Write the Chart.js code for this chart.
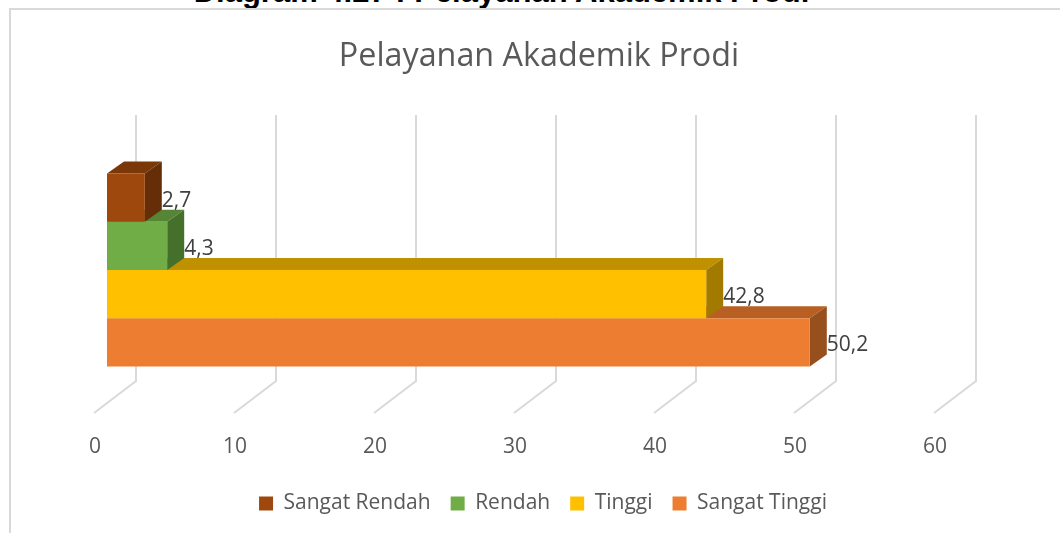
<!DOCTYPE html>
<html>
<head>
<meta charset="utf-8">
<title>Pelayanan Akademik Prodi</title>
<script src="https://cdn.jsdelivr.net/npm/chart.js@4"></script>
<style>
  html,body{margin:0;padding:0;width:1060px;height:533px;overflow:hidden;background:#fff}
  #heading{position:absolute;left:0;width:1003px;top:-24px;text-align:center;font:bold 31px/32px "Liberation Sans",sans-serif;color:#000;white-space:nowrap}
  #frame{position:absolute;left:9px;top:8px;width:1200px;height:700px;border:2px solid #d9d9d9;background:#fff}
  #wrap{position:absolute;left:0;top:0;width:1060px;height:533px}
</style>
</head>
<body>
<div id="heading">Diagram  4.27 : Pelayanan Akademik Prodi</div>
<div id="frame"></div>
<div id="wrap"><canvas id="chart" width="1060" height="533"></canvas></div>
<script>
  // ===== Data =====
  const categories = ['Pelayanan Akademik Prodi'];
  const seriesNames = ['Sangat Rendah', 'Rendah', 'Tinggi', 'Sangat Tinggi'];
  const seriesValues = [2.7, 4.3, 42.8, 50.2];
  const axisMin = 0, axisMax = 60, axisStep = 10;

  // ===== Colours =====
  const frontColors = ['#9e480e', '#70ad47', '#ffc000', '#ed7d31'];
  const topColors = ['#7a3809', '#568535', '#bf9000', '#b86023'];
  const sideColors = ['#652e08', '#44702b', '#a27a00', '#984f1e'];

  // 3d look: bar depth and wall depth, measured from the front of the bars
  const barDepth = {x: 17, y: -12};
  const wallBack = {x: 29, y: -22};
  const wallFront = {x: -13, y: 10};

  function poly(ctx, pts, color){
    ctx.fillStyle = color;
    ctx.beginPath();
    pts.forEach((p, i) => i ? ctx.lineTo(p[0], p[1]) : ctx.moveTo(p[0], p[1]));
    ctx.closePath();
    ctx.fill();
  }

  const walls3d = {
    id: 'walls3d',
    beforeDatasetsDraw(chart){
      const {ctx, chartArea, scales} = chart;
      ctx.save();
      ctx.strokeStyle = '#d9d9d9';
      ctx.lineWidth = 2;
      scales.x.ticks.forEach(t => {
        const px = scales.x.getPixelForValue(t.value);
        ctx.beginPath();
        ctx.moveTo(px + wallBack.x, chartArea.top + wallBack.y);
        ctx.lineTo(px + wallBack.x, chartArea.bottom + wallBack.y);
        ctx.lineTo(px + wallFront.x, chartArea.bottom + wallFront.y);
        ctx.stroke();
      });
      // bar tops and sides, bottom bar first so upper bars sit over it
      for(let i = seriesValues.length - 1; i >= 0; i--){
        const b = chart.getDatasetMeta(i).data[0];
        const t = b.y - b.height / 2, u = b.y + b.height / 2;
        const dx = barDepth.x, dy = barDepth.y;
        poly(ctx, [[b.base, t], [b.x, t], [b.x + dx, t + dy], [b.base + dx, t + dy]], topColors[i]);
        poly(ctx, [[b.x, t], [b.x + dx, t + dy], [b.x + dx, u + dy], [b.x, u]], sideColors[i]);
      }
      ctx.restore();
    }
  };

  const valueLabels = {
    id: 'valueLabels',
    afterDatasetsDraw(chart){
      const {ctx} = chart;
      ctx.save();
      ctx.font = '21px "Open Sans"';
      ctx.fillStyle = '#404040';
      ctx.textBaseline = 'middle';
      seriesValues.forEach((v, i) => {
        const b = chart.getDatasetMeta(i).data[0];
        ctx.fillText(String(v).replace('.', ','), b.x + barDepth.x, b.y + 3);
      });
      ctx.restore();
    }
  };

  // title and legend sit a bit right of the plot centre in the original
  const centerBlocks = {
    id: 'centerBlocks',
    afterLayout(chart){
      [[chart.titleBlock, 539], [chart.legend, 543]].forEach(([box, c]) => {
        const dx = c - (box.left + box.right) / 2;
        box.left += dx;
        box.right += dx;
      });
    }
  };

  new Chart(document.getElementById('chart'), {
    type: 'bar',
    data: {
      labels: categories,
      datasets: seriesNames.map((name, i) => ({
        label: name,
        data: [seriesValues[i]],
        backgroundColor: frontColors[i],
        barPercentage: 1,
        categoryPercentage: 0.7256
      }))
    },
    options: {
      indexAxis: 'y',
      responsive: false,
      animation: false,
      layout: {padding: {left: 107, right: 113, top: 0, bottom: 9}},
      scales: {
        x: {
          min: axisMin, max: axisMax,
          ticks: {stepSize: axisStep, color: '#595959', font: {family: 'Open Sans', size: 21}, padding: 23, labelOffset: -12, maxRotation: 0},
          grid: {display: false},
          border: {display: false},
          afterFit(scale){ scale.height = 70; }
        },
        y: {display: false}
      },
      plugins: {
        title: {
          display: true,
          text: 'Pelayanan Akademik Prodi',
          color: '#595959',
          font: {family: 'Open Sans', size: 32.3, weight: 'normal'},
          padding: {top: 37, bottom: 61.2}
        },
        legend: {
          position: 'bottom',
          labels: {color: '#595959', font: {family: 'Open Sans', size: 21}, boxWidth: 14, boxHeight: 14, padding: 20}
        },
        tooltip: {enabled: false}
      }
    },
    plugins: [walls3d, valueLabels, centerBlocks]
  });
</script>
</body>
</html>
